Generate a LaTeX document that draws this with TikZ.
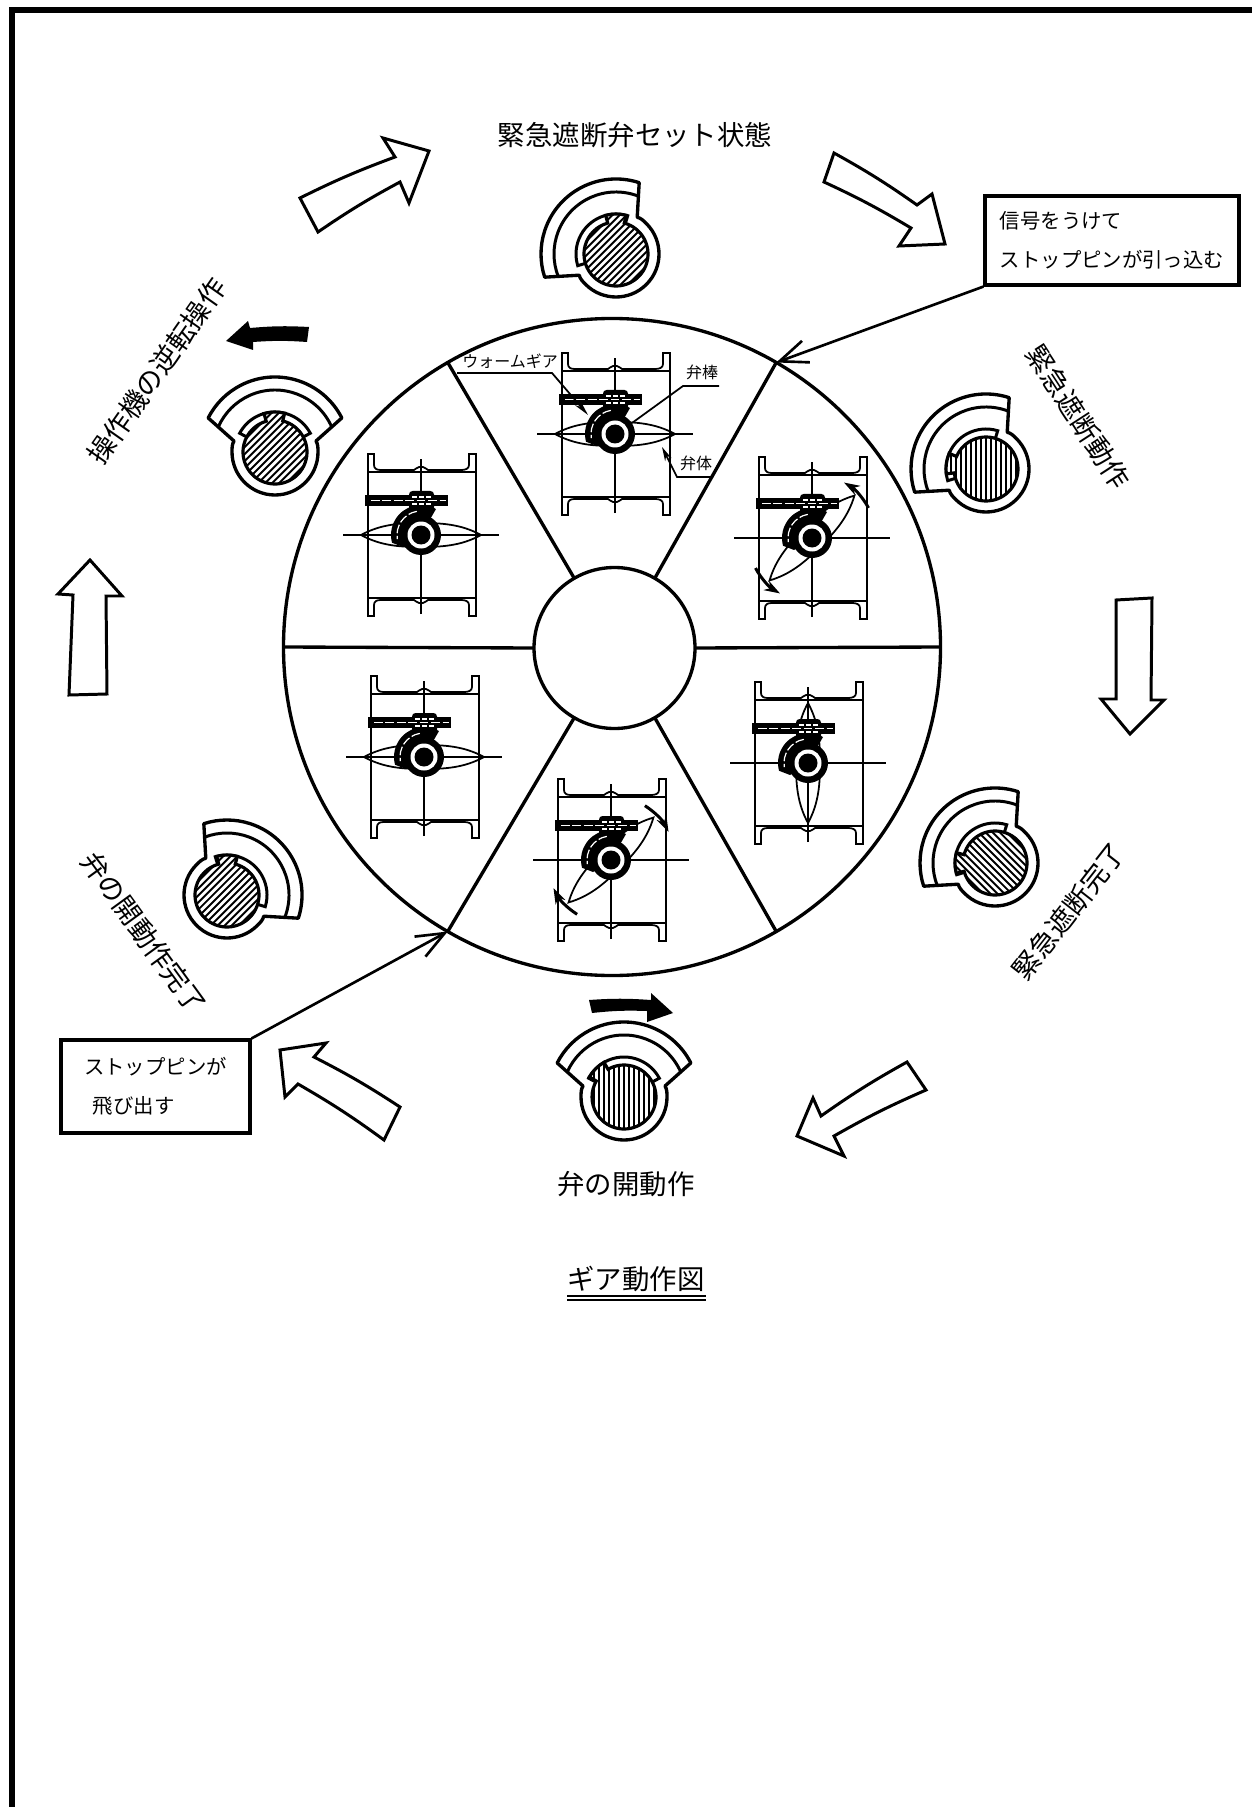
\documentclass[tikz,border=0pt]{standalone}
\usepackage{fontspec}
\setmainfont{Noto Sans CJK JP}
\usetikzlibrary{arrows.meta}
\tikzset{
    thickline/.style={line width=1.9pt},
    blockarrow/.style={draw, line width=1.7pt, fill=white},
    bigtext/.style={font=\fontsize{15.6}{18}\selectfont, inner sep=0pt},
    boxtext/.style={draw, line width=1.8pt, inner sep=0pt, align=left, font=\fontsize{11.6}{22}\selectfont},
    smalltext/.style={font=\fontsize{9.1}{11}\selectfont, inner sep=0pt},
    leader/.style={line width=1pt},
    pics/camfig/.style n args={3}{code={
        \begin{scope}[rotate=#1]
            \draw[line width=1.9pt, fill=white, line join=round]
                (27:75) arc[start angle=27, end angle=153, radius=75]
                -- (-41,11) .. controls (-43,8) and (-43,4) .. (-43,0)
                arc[start angle=180, end angle=360, radius=43]
                .. controls (43,4) and (43,8) .. (41,11) -- cycle;
            \draw[line width=1.7pt] (24:62) arc[start angle=24, end angle=156, radius=62];
            \draw[line width=1.7pt] (28:30) -- (28:40) arc[start angle=28, end angle=152, radius=40] -- (152:30);
        \end{scope}
        \begin{scope}
            \clip ({#2+15}:40) arc[start angle=#2+15, end angle=#2-15, radius=40]
                -- ({#2-15}:32) arc[start angle=#2-15, end angle=#2+15-360, radius=32] -- cycle;
            \fill[white] (-45,-45) rectangle (45,45);
            \foreach \i in {-45,-40,...,45}
                \draw[line width=1.1pt, rotate=#3-90] (\i,-50) -- (\i,50);
        \end{scope}
        \draw[line width=1.8pt] ({#2+15}:40) arc[start angle=#2+15, end angle=#2-15, radius=40]
            -- ({#2-15}:32) arc[start angle=#2-15, end angle=#2+15-360, radius=32] -- cycle;
    }},
    pics/valve/.style={code={
        % flanges
        \foreach \flip in {1,-1} {
            \draw[line width=1pt, yscale=\flip] (-53,63) -- (-53,81) -- (-47,81) -- (-47,70)
                .. controls (-47,66) and (-44,65) .. (-40,65) -- (-7,65)
                .. controls (-5,65) and (-5,68) .. (-2,68) -- (2,68)
                .. controls (5,68) and (5,65) .. (7,65) -- (40,65)
                .. controls (44,65) and (48,66) .. (48,70) -- (48,81) -- (55,81) -- (55,63) -- cycle;
        }
        \draw[line width=1pt] (-53,-63) -- (-53,63) (55,-63) -- (55,63);
        % center lines
        \draw[line width=1pt] (-78,0) -- (78,0) (0,-79) -- (0,76);
        % disc
        \draw[line width=1pt, rotate=#1] (-60,0) .. controls (-40,11) and (-20,12) .. (0,12)
            .. controls (20,12) and (40,11) .. (60,0)
            .. controls (40,-11) and (20,-12) .. (0,-12)
            .. controls (-20,-12) and (-40,-11) .. (-60,0) -- cycle;
        % worm and gear
        \fill (-56,29) rectangle (27,40);
        \fill[rounded corners=2] (-12,24) rectangle (13,44);
        \draw[white, line width=0.7pt, dash pattern=on 5pt off 1.5pt] (-50,34.5) -- (25,34.5);
        \draw[white, line width=0.7pt, dash pattern=on 3pt off 1pt] (-9,38) -- (10,38) (-9,31) -- (10,31);
        \fill (60:30) arc[start angle=60, end angle=195, radius=30] -- (-18,-12) -- (0,0) -- cycle;
        \draw[white, line width=0.7pt, dash pattern=on 5pt off 1.5pt] (100:24) arc[start angle=100, end angle=190, radius=24];
        % hub
        \fill (0,0) circle[radius=20];
        \fill[white] (0,0) circle[radius=13.5];
        \fill (0,0) circle[radius=9.5];
    }},
    pics/swing/.style 2 args={code={
        \foreach \ang in {0,180} {
            \draw[line width=1.7pt, -{Stealth[length=9pt,width=6pt]}]
                ({#1+\ang}:64) arc[start angle=#1+\ang, end angle=#2+\ang, radius=64];
        }
    }}
}
\begin{document}
\begin{tikzpicture}[x=0.2mm, y=0.2mm]
    \useasboundingbox (0,0) rectangle (1252,-1807);
    % frame
    \fill (9,-7) rectangle (1252,-13);
    \fill (9,-7) rectangle (15,-1807);
    % wheel
    \node[circle, draw, thickline, inner sep=0pt, outer sep=0pt, minimum size=131.4mm] (wheel) at (612,-647) {};
    \node[circle, draw, thickline, inner sep=0pt, outer sep=0pt, minimum size=32.2mm] (hub) at (614.5,-648) {};
    \foreach \ang in {0,60,...,300} {
        \draw[thickline] (wheel.\ang) -- (hub.\ang);
    }
    % valves
    \pic at (615,-434) {valve=0};
    \pic at (812,-538) {valve=45};
    \pic at (808,-763) {valve=90};
    \pic at (611,-860) {valve=45};
    \pic at (424,-757) {valve=0};
    \pic at (421,-535) {valve=0};
    \pic at (812,-538) {swing={28}{60}};
    \pic at (611,-860) {swing={58}{26}};
    % labels of the first valve
    \node[smalltext, anchor=base] (wormtext) at (510,-368) {ウォームギア};
    \node[smalltext, anchor=base] (stemtext) at (702,-379) {弁棒};
    \node[smalltext, anchor=base] (bodytext) at (696,-470) {弁体};
    \coordinate (wormend) at (588,-415);
    \coordinate (stemend) at (632,-423);
    \coordinate (bodyend) at (662,-447);
    \draw[leader, -{Stealth[length=9pt,width=4pt]}] (457,-373) -- (552,-373) -- (wormend);
    \draw[leader] (719,-386) -- (683,-386) -- (stemend);
    \draw[leader, -{Stealth[length=8pt,width=4pt]}] (713,-477) -- (677,-477) -- (bodyend);
    % cams
    \pic at (616,-254) {camfig={45}{90}{45}};
    \pic at (986,-469) {camfig={45}{172}{90}};
    \pic at (995,-863) {camfig={45}{180}{-45}};
    \pic at (624,-1097) {camfig={0}{135}{90}};
    \pic at (227,-895) {camfig={-45}{90}{45}};
    \pic at (275,-452) {camfig={0}{91}{45}};
    % open arrows
    \draw[blockarrow] (300,-198) to[bend left=3] (395,-157) -- (383,-138) -- (429,-151) -- (409,-203) -- (400,-182) to[bend right=3] (318,-232) -- cycle;
    \draw[blockarrow] (834,-153) to[bend left=3] (917,-205) -- (932,-194) -- (945,-244) -- (899,-246) -- (911,-228) to[bend right=3] (824,-182) -- cycle;
    \draw[blockarrow] (1116,-600) -- (1152,-598) -- (1151,-700) -- (1164,-700) -- (1130,-734) -- (1101,-699) -- (1116,-699) -- cycle;
    \draw[blockarrow] (926,-1090) -- (907,-1062) to[bend right=3] (821,-1116) -- (813,-1098) -- (797,-1136) -- (844,-1156) -- (834,-1136) to[bend left=3] cycle;
    \draw[blockarrow] (280,-1050) -- (326,-1043) -- (314,-1057) to[bend left=3] (400,-1107) -- (384,-1140) to[bend right=3] (298,-1084) -- (285,-1097) -- cycle;
    \draw[blockarrow] (69,-695) -- (107,-694) -- (106,-596) -- (122,-596) -- (90,-560) -- (58,-594) -- (73,-595) -- cycle;
    % black arrows
    \fill (589,-1000) to[bend left=4] (651,-1000) -- (651,-993) -- (673,-1013) -- (647,-1022) -- (647,-1011) to[bend right=4] (592,-1013) -- cycle;
    \fill (309,-327) to[bend right=4] (250,-328) -- (248,-321) -- (226,-341) -- (253,-350) -- (253,-342) to[bend left=4] (307,-342) -- cycle;
    % boxes
    \node[boxtext, minimum width=50.8mm, minimum height=17.8mm] (box1) at (1112,-240.5) {信号をうけて\\ストップピンが引っ込む};
    \node[boxtext, minimum width=37.8mm, minimum height=18.6mm] (box2) at (155.5,-1086.5) {ストップピンが\\\hspace*{5pt}飛び出す};
    \draw[line width=1.5pt, -{Straight Barb[length=16pt,width=13pt]}] (box1.south west) -- (wheel.60);
    \draw[line width=1.5pt, -{Straight Barb[length=16pt,width=13pt]}] (box2.north east) -- (wheel.240);
    % state names
    \node[bigtext] (state1) at (635,-135) {緊急遮断弁セット状態};
    \node[bigtext, rotate=-57] (state2) at (1078,-417) {緊急遮断動作};
    \node[bigtext, rotate=52] (state3) at (1069,-911) {緊急遮断完了};
    \node[bigtext] (state4) at (626,-1184) {弁の開動作};
    \node[bigtext, rotate=-54] (state5) at (144,-933) {弁の開動作完了};
    \node[bigtext, rotate=55] (state6) at (157,-371) {操作機の逆転操作};
    % caption
    \node[bigtext] (caption) at (636,-1279) {ギア動作図};
    \draw[line width=0.8pt] (567,-1296) -- (706,-1296) (567,-1300) -- (706,-1300);
\end{tikzpicture}
\end{document}
